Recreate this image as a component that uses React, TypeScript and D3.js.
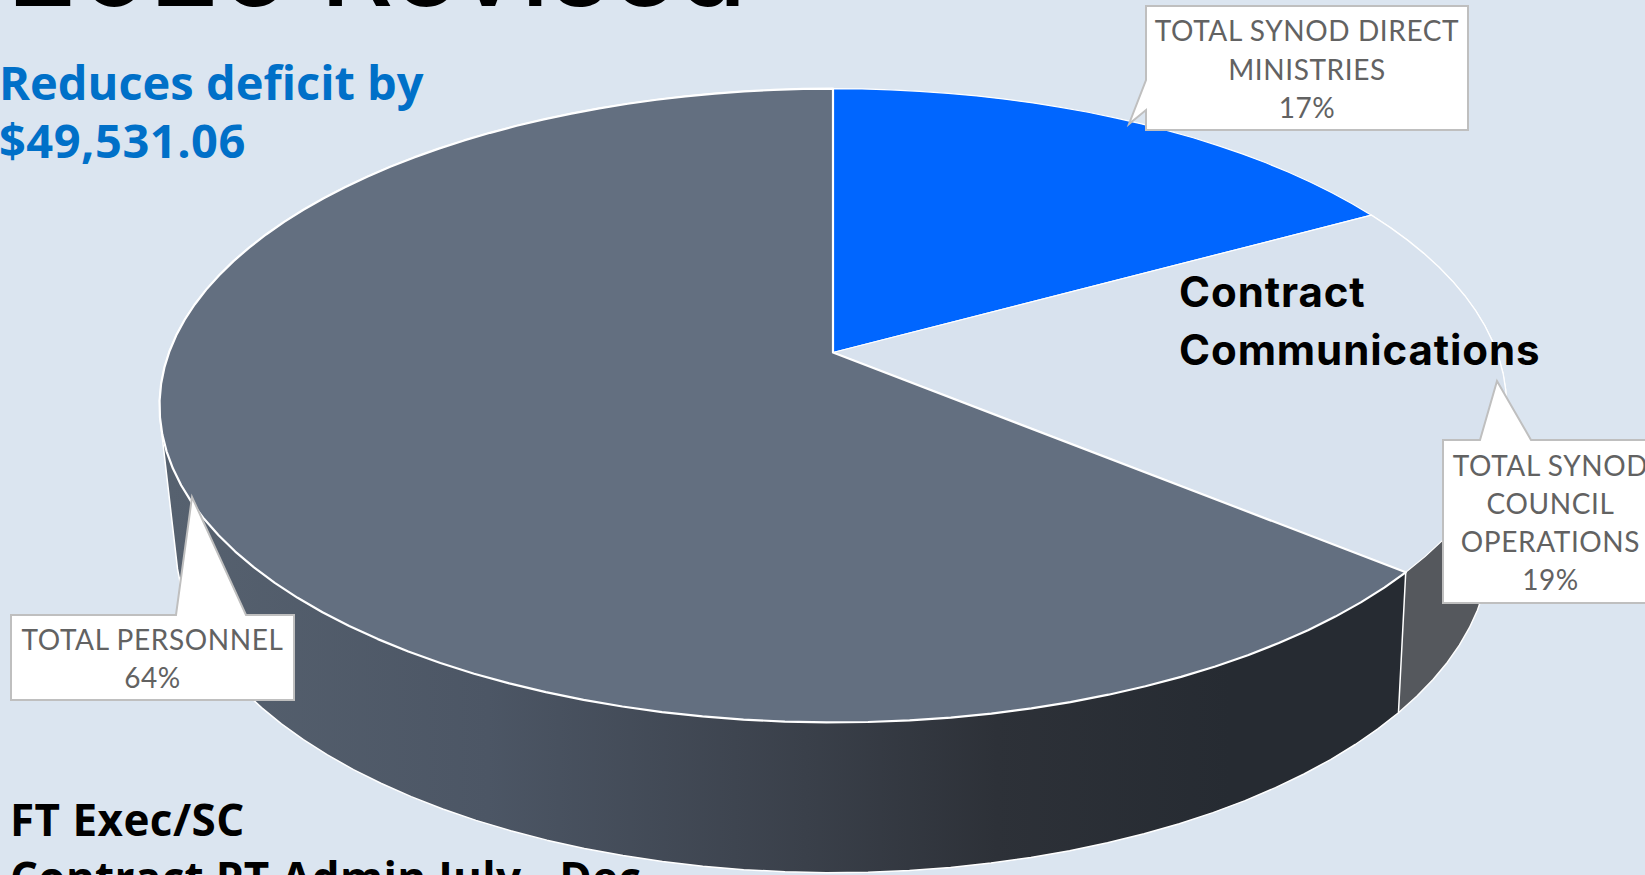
import React from "react";
import * as d3 from "d3";

const WIDTH = 1645;
const HEIGHT = 875;

// Budget shares by category, clockwise from twelve o'clock.
const categories = ["TOTAL SYNOD DIRECT MINISTRIES", "TOTAL SYNOD COUNCIL OPERATIONS", "TOTAL PERSONNEL"];
const shares = [17, 19, 64];
const topColors = ["#0066ff", "#d8e2ee", "#636f80"];

const calloutLines = [
  ["TOTAL SYNOD DIRECT", "MINISTRIES", "17%"],
  ["TOTAL SYNOD", "COUNCIL", "OPERATIONS", "19%"],
  ["TOTAL PERSONNEL", "64%"],
];
const calloutBoxes = [
  { x: 1146, y: 6, w: 322, h: 124, tip: [1129, 124], base: [[1146, 80], [1146, 110]] },
  { x: 1443, y: 440, w: 215, h: 163, tip: [1497, 381], base: [[1480, 440], [1531, 440]] },
  { x: 11, y: 615, w: 283, h: 85, tip: [192, 497], base: [[176, 615], [246, 615]] },
];

// Perspective disc: a unit circle seen from above, nearer points appear larger.
// The base sits further below the eye, so its foreshortening is a little stronger.
const CX = 833;
const topDisc = { cy: 352.5, rx: 664, ry: 308, p: 0.1674 };
const baseDisc = { cy: 485, rx: 645, ry: 314, p: 0.19 };
type Disc = typeof topDisc;
const project = (a: number, d: Disc): [number, number] => {
  const x = Math.sin(a);
  const y = -Math.cos(a);
  const w = 1 - d.p * y;
  return [CX + (d.rx * x) / w, d.cy + (d.ry * y) / w];
};

const rimAngles = (a0: number, a1: number) => {
  const step = (3 * Math.PI) / 180;
  const n = Math.max(1, Math.ceil((a1 - a0) / step));
  return d3.range(n + 1).map((i) => a0 + ((a1 - a0) * i) / n);
};

const line = d3.line();

export default function App() {
  const arcs = d3.pie<number>().sort(null).value((d) => d)(shares);
  const ff = "Lato, 'Open Sans', sans-serif";
  return (
    <svg
      width={WIDTH}
      height={HEIGHT}
      viewBox={`0 0 ${WIDTH} ${HEIGHT}`}
      style={{ position: "fixed", left: 0, top: 0, background: "#dbe5f0" }}
    >
      <defs>
        <linearGradient id="wallShade" gradientUnits="userSpaceOnUse" x1={170} x2={1230} y1={0} y2={0}>
          <stop offset="0" stopColor="#56616f" />
          <stop offset="0.3" stopColor="#4c5665" />
          <stop offset="0.6" stopColor="#3a404a" />
          <stop offset="0.78" stopColor="#2d3138" />
          <stop offset="1" stopColor="#262b32" />
        </linearGradient>
      </defs>

      <text x={8} y={6} fontFamily="Inter, sans-serif" fontSize={113} fontWeight={500} fill="#000">2025 Revised</text>
      <text x={-1} y={100} fontFamily="'Open Sans', sans-serif" fontSize={47} fontWeight={700} fill="#0070c8">Reduces deficit by</text>
      <text x={-1} y={158} fontFamily="'Open Sans', sans-serif" fontSize={47} fontWeight={700} letterSpacing={0.5} fill="#0070c8">$49,531.06</text>

      {/* Each wall is the hull of its top and base rims, so the silhouette stays straight */}
      {arcs.map((s, i) => {
        if (i === 0) return null;
        const a = rimAngles(s.startAngle, s.endAngle);
        const hull = d3.polygonHull([...a.map((t) => project(t, topDisc)), ...a.map((t) => project(t, baseDisc))]);
        return (
          <path
            key={`wall-${i}`}
            d={(line(hull as [number, number][]) as string) + "Z"}
            fill={i === 1 ? "#55585d" : "url(#wallShade)"}
            stroke="#fff"
            strokeWidth={1.5}
            strokeLinejoin="round"
          />
        );
      })}

      {/* Disc faces */}
      {arcs.map((s, i) => {
        const pts = rimAngles(s.startAngle, s.endAngle).map((t) => project(t, topDisc));
        const centre: [number, number] = [CX, topDisc.cy];
        return (
          <path
            key={categories[i]}
            d={(line([centre, ...pts]) as string) + "Z"}
            fill={topColors[i]}
            stroke="#fff"
            strokeWidth={i === 2 ? 2.2 : 1.2}
            strokeLinejoin="round"
          />
        );
      })}

      <text x={1179} y={307} fontFamily="Inter, sans-serif" fontSize={42} fontWeight={700} letterSpacing={0.9} fill="#000">Contract</text>
      <text x={1179} y={365} fontFamily="Inter, sans-serif" fontSize={42} fontWeight={700} letterSpacing={0.9} fill="#000">Communications</text>

      {/* Callouts */}
      {calloutBoxes.map((b, i) => {
        const outline = i === 0
          ? [[b.x, b.y], [b.x + b.w, b.y], [b.x + b.w, b.y + b.h], [b.x, b.y + b.h], b.base[1], b.tip, b.base[0]]
          : [[b.x, b.y], b.base[0], b.tip, b.base[1], [b.x + b.w, b.y], [b.x + b.w, b.y + b.h], [b.x, b.y + b.h]];
        const lines = calloutLines[i];
        const pitch = 38.2;
        const first = b.y + b.h / 2 - ((lines.length - 1) * pitch) / 2 + 11.5;
        return (
          <g key={`callout-${i}`}>
            <path d={(line(outline as [number, number][]) as string) + "Z"} fill="#fff" stroke="#bfbfbf" strokeWidth={2} />
            {lines.map((t, j) => (
              <text
                key={j}
                x={b.x + b.w / 2}
                y={first + j * pitch}
                textAnchor="middle"
                fontFamily={ff}
                fontSize={28}
                fontWeight={400}
                letterSpacing={0.6}
                fill="#626262"
              >
                {t}
              </text>
            ))}
          </g>
        );
      })}

      <text x={10} y={836} fontFamily="'Open Sans', sans-serif" fontSize={44} fontWeight={700} letterSpacing={0.45} fill="#000">FT Exec/SC</text>
      <text x={10} y={894} fontFamily="'Open Sans', sans-serif" fontSize={44} fontWeight={700} letterSpacing={0.3} fill="#000">Contract PT Admin July - Dec</text>
    </svg>
  );
}
